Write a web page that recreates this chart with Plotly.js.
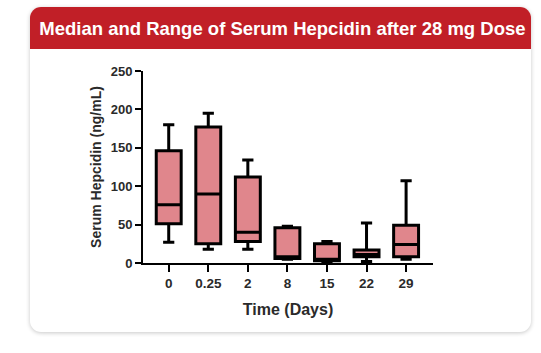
<!DOCTYPE html>
<html>
<head>
<meta charset="utf-8">
<script src="https://cdn.plot.ly/plotly-3.0.1.min.js"></script>
<style>
  html, body { margin: 0; padding: 0; background: #ffffff; width: 541px; height: 353px; overflow: hidden; }
  #card { position: absolute; left: 30px; top: 7px; width: 501px; height: 325px; border-radius: 11px;
          background: #ffffff; box-shadow: 0 1px 4px rgba(0,0,0,0.22); overflow: hidden; }
  #header { position: absolute; left: 0; top: 0; width: 100%; height: 42px; background: #c11f27; }
  #chart { position: absolute; left: 0; top: 0; width: 541px; height: 353px; }
</style>
</head>
<body>
<div id="card"><div id="header"></div></div>
<div id="chart"></div>
<script>
// Data
const days = ["0", "0.25", "2", "8", "15", "22", "29"];
const minVals    = [27, 18, 18, 5, 2, 2, 5];
const q1Vals     = [51, 25, 28, 6, 3, 8, 8];
const medianVals = [76, 90, 40, 8, 5, 11, 24];
const q3Vals     = [146, 177, 112, 46, 25, 17, 49];
const maxVals    = [180, 195, 134, 48, 28, 52, 107];
const yTicks = [0, 50, 100, 150, 200, 250];

const textColor = "#2a2a2a";
const fontFam = "Liberation Sans, Arial, sans-serif";

const trace = {
  type: "box",
  x: days,
  q1: q1Vals,
  median: medianVals,
  q3: q3Vals,
  lowerfence: minVals,
  upperfence: maxVals,
  width: 0.63,
  whiskerwidth: 0.45,
  fillcolor: "#e0868c",
  line: { color: "#000000", width: 3 },
  boxpoints: false,
  hoverinfo: "skip",
  showlegend: false
};

const layout = {
  width: 541,
  height: 353,
  paper_bgcolor: "rgba(0,0,0,0)",
  plot_bgcolor: "rgba(0,0,0,0)",
  margin: { l: 143, r: 108, t: 71, b: 90 },
  font: { family: fontFam, color: textColor },
  title: {
    text: "<b>Median and Range of Serum Hepcidin after 28 mg Dose</b>",
    font: { family: fontFam, size: 18.5, color: "#ffffff" },
    x: 0.522, xref: "container", xanchor: "center",
    y: 1 - 29 / 353, yref: "container", yanchor: "middle"
  },
  xaxis: {
    type: "category",
    categoryorder: "array",
    categoryarray: days,
    range: [-0.65, 6.68],
    showline: true, linecolor: "#000000", linewidth: 2,
    ticks: "outside", ticklen: 7, tickwidth: 2, tickcolor: "#000000",
    tickfont: { family: fontFam, size: 13.5, color: textColor, weight: "bold" },
    showgrid: false, zeroline: false,
    title: { text: "<b>Time (Days)</b>", font: { family: fontFam, size: 16, color: textColor }, standoff: 14 }
  },
  yaxis: {
    range: [0, 250],
    tickvals: yTicks,
    showline: true, linecolor: "#000000", linewidth: 2,
    ticks: "outside", ticklen: 6, tickwidth: 2, tickcolor: "#000000",
    tickfont: { family: fontFam, size: 13, color: textColor, weight: "bold" },
    showgrid: false, zeroline: false,
    title: { text: "<b>Serum Hepcidin (ng/mL)</b>", font: { family: fontFam, size: 14, color: textColor }, standoff: 6 }
  }
};

Plotly.newPlot("chart", [trace], layout, { displayModeBar: false, staticPlot: true });
</script>
</body>
</html>
